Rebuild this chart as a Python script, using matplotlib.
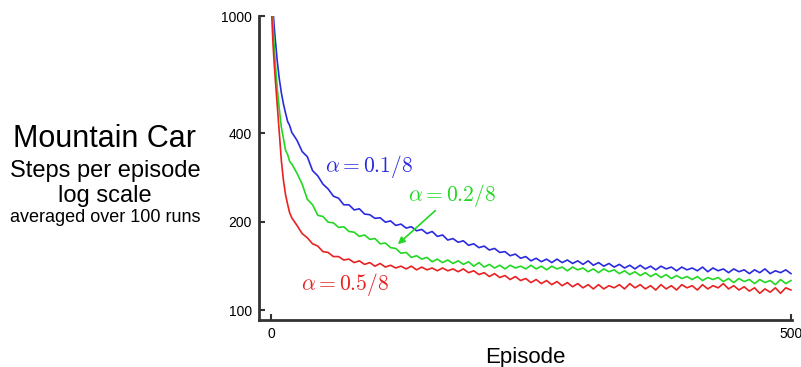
import matplotlib
matplotlib.use("Agg")
import matplotlib.pyplot as plt
from matplotlib.ticker import NullLocator

plt.rcParams['font.family'] = ['Liberation Sans', 'DejaVu Sans']
plt.rcParams['mathtext.fontset'] = 'cm'

# episodes (denser at the start where the curves drop fast)
episodes = [0, 1, 2, 3, 4, 6, 8, 10, 12, 14, 16, 18, 20] + list(range(25, 501, 5))

# steps per episode
steps_a01 = [1600, 1250, 1050, 930, 845, 705, 612, 548, 502, 468, 438, 424, 402,
             378, 346, 332, 298, 286, 268, 258, 244, 240, 228,
             228, 219, 221, 212, 211, 205, 206, 199, 201, 194,
             196, 190, 192, 186, 188, 182, 185, 178, 180, 173,
             175, 170, 172, 166, 168, 163, 165, 160, 162, 157,
             158, 153, 155, 150, 152, 147, 150, 146, 149, 145,
             149, 145, 148, 144, 147, 143, 147, 142, 145, 141,
             144, 140, 143, 139, 142, 138, 142, 138, 141, 137,
             141, 138, 140, 136, 140, 137, 139, 136, 140, 135,
             139, 136, 138, 134, 138, 135, 137, 133, 137, 134,
             138, 133, 136, 134, 137, 133]
steps_a02 = [1500, 1150, 945, 800, 705, 570, 482, 418, 383, 350, 338, 320, 314,
             292, 268, 238, 228, 210, 208, 199, 198, 191, 192,
             185, 184, 178, 180, 174, 175, 168, 169, 163, 162,
             156, 157, 151, 153, 149, 151, 146, 149, 145, 148,
             144, 147, 143, 146, 141, 145, 140, 143, 139, 142,
             138, 142, 139, 141, 138, 142, 138, 141, 137, 141,
             138, 140, 136, 140, 137, 139, 135, 138, 134, 138,
             135, 137, 133, 136, 132, 135, 131, 134, 130, 133,
             129, 132, 128, 131, 128, 130, 127, 130, 126, 129,
             127, 129, 125, 128, 124, 128, 125, 127, 123, 127,
             124, 126, 122, 127, 123, 126]
steps_a05 = [1150, 960, 800, 700, 620, 500, 402, 322, 276, 247, 229, 214, 206,
             194, 182, 176, 168, 165, 158, 157, 152, 152, 148,
             149, 145, 147, 143, 145, 141, 144, 140, 142, 139,
             141, 138, 141, 137, 140, 137, 139, 136, 139, 136,
             138, 135, 138, 134, 136, 132, 134, 130, 133, 129,
             131, 127, 130, 126, 128, 124, 127, 123, 126, 122,
             125, 121, 124, 120, 123, 119, 122, 118, 122, 118,
             121, 119, 122, 118, 123, 119, 122, 118, 121, 117,
             122, 118, 121, 117, 122, 119, 121, 117, 122, 118,
             121, 119, 123, 118, 121, 117, 120, 116, 119, 114,
             118, 115, 119, 114, 119, 117]

yticks = [100, 200, 400, 1000]
xticks = [0, 500]

fig = plt.figure(figsize=(8.01, 3.67), dpi=100)
ax = fig.add_axes([259 / 801, 47 / 367, 533 / 801, 304 / 367])

blue, green, red = '#2a2ae0', '#22d822', '#e82222'
ax.plot(episodes, steps_a01, color=blue, lw=1.2)
ax.plot(episodes, steps_a02, color=green, lw=1.2)
ax.plot(episodes, steps_a05, color=red, lw=1.2)

ax.set_yscale('log')
ax.set_ylim(92.5, 1000)
ax.set_xlim(-11.5, 501)
ax.yaxis.set_minor_locator(NullLocator())
ax.set_yticks(yticks)
ax.set_yticklabels([str(t) for t in yticks])
ax.set_xticks(xticks)
ax.set_xticklabels([str(t) for t in xticks])
ax.tick_params(direction='in', length=4, width=1.5, labelsize=10, pad=5, color='#333333')

for s in ['top', 'right']:
    ax.spines[s].set_visible(False)
for s in ['left', 'bottom']:
    ax.spines[s].set_linewidth(2)
    ax.spines[s].set_color('#333333')

ax.set_xlabel('Episode', fontsize=16, labelpad=4)

ax.text(94, 307, r'$\alpha = 0.1/8$', color=blue, fontsize=15.5, ha='center', va='center')
ax.text(174, 246, r'$\alpha = 0.2/8$', color=green, fontsize=15.5, ha='center', va='center')
ax.text(71, 122.6, r'$\alpha = 0.5/8$', color=red, fontsize=15.5, ha='center', va='center')
ax.annotate('', xy=(120, 165), xytext=(160, 221),
            arrowprops=dict(arrowstyle='-|>', color=green, lw=1.2, mutation_scale=10))

fig.text(105 / 801, 1 - 139 / 367, 'Mountain Car', fontsize=22, ha='center', va='center')
fig.text(105 / 801, 1 - 171 / 367, 'Steps per episode', fontsize=17, ha='center', va='center')
fig.text(105 / 801, 1 - 196 / 367, 'log scale', fontsize=17, ha='center', va='center')
fig.text(105 / 801, 1 - 218 / 367, 'averaged over 100 runs', fontsize=13, ha='center', va='center')

fig.savefig('out.png', dpi=100)
